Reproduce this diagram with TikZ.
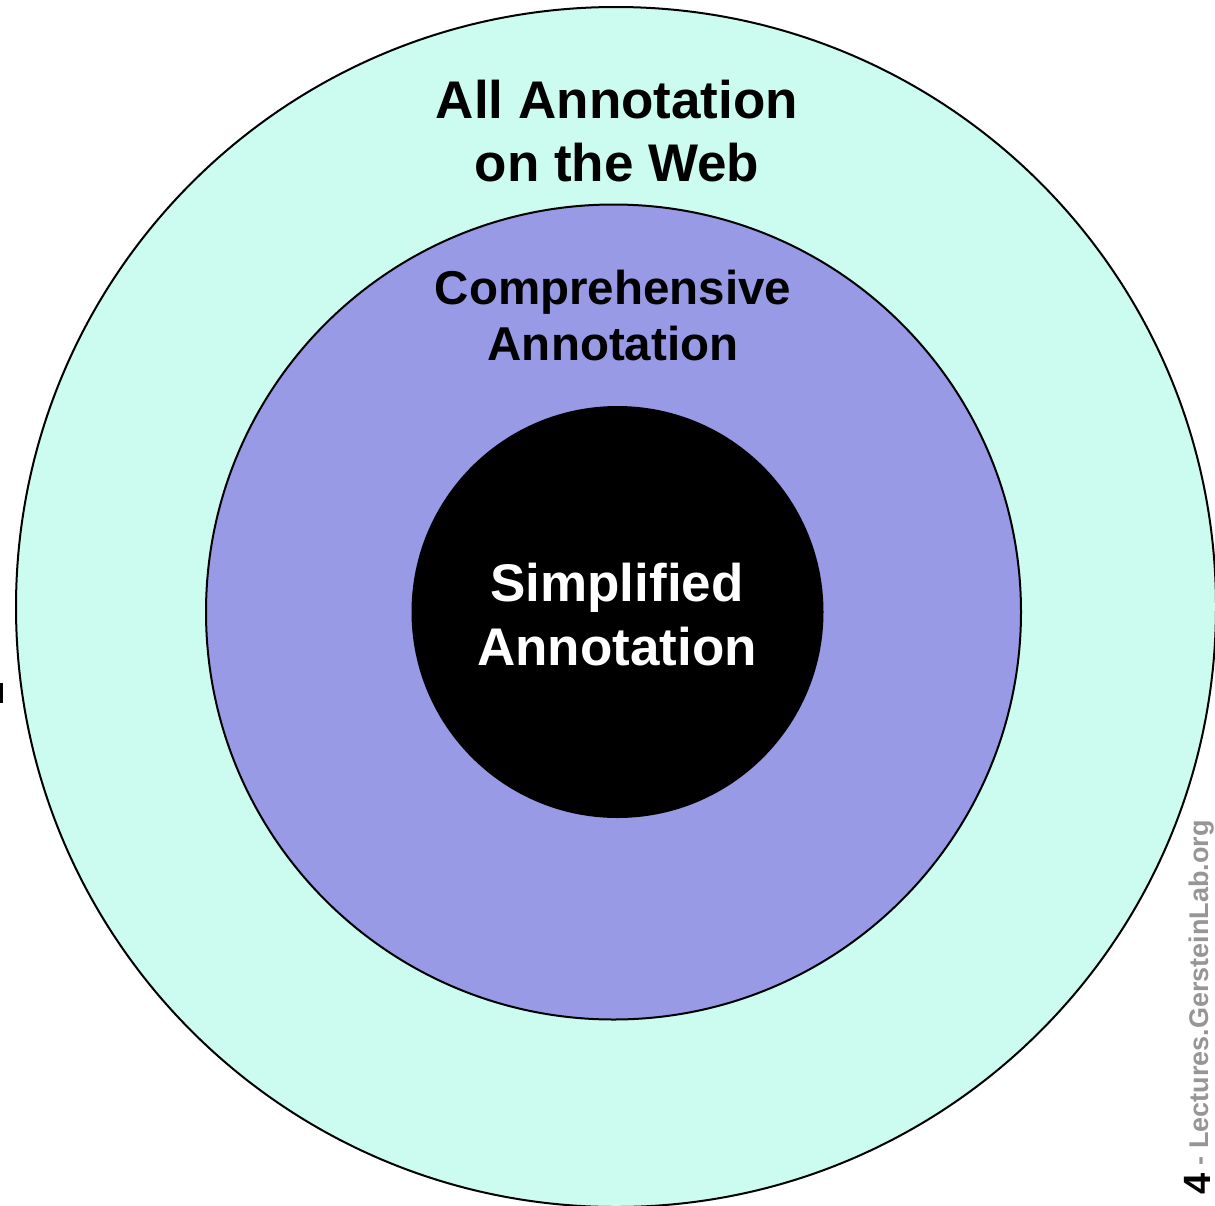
\documentclass[tikz,border=0pt]{standalone}
\usepackage{fontspec}
\setmainfont{Liberation Sans}
\definecolor{aqua}{RGB}{204,252,239}
\definecolor{peri}{RGB}{152,154,230}
\definecolor{wmgray}{RGB}{150,150,150}
\tikzset{
  ring/.style={circle, draw=black, line width=2pt, inner sep=0pt},
  bigtext/.style={anchor=base, inner sep=0pt, font=\bfseries\fontsize{53}{64}\selectfont},
  midtext/.style={anchor=base, inner sep=0pt, font=\bfseries\fontsize{47.5}{57}\selectfont},
}
\begin{document}
\begin{tikzpicture}[x=1pt,y=-1pt]
\useasboundingbox (0,0) rectangle (1215,1205);
\clip (0,0) rectangle (1215,1205);
\fill[white] (0,0) rectangle (1215,1205);
\node[ring, fill=aqua, minimum size=1200pt] (outer) at (616,607) {};
\node[ring, fill=peri, minimum size=815pt] (middle) at (613.5,612) {};
\node[ring, fill=black, minimum size=410pt] (inner) at (617.5,612) {};
\node[bigtext] (allA) at (617,118) {All Annotation};
\node[bigtext] (allB) at (617,181) {on the Web};
\node[midtext] (compA) at (613,304) {Comprehensive};
\node[midtext] (compB) at (613,360) {Annotation};
\node[bigtext, text=white] (simpA) at (617,601) {Simplified};
\node[bigtext, text=white] (simpB) at (617,665) {Annotation};
\fill[black] (0,683) rectangle (2.5,703);
\node[rotate=90, anchor=base east, inner sep=0pt, text=wmgray,
      font=\bfseries\fontsize{27}{32}\selectfont] (wm) at (1208,820)
      {- Lectures.GersteinLab.org};
\node[rotate=90, anchor=base east, inner sep=0pt, text=black,
      font=\bfseries\fontsize{38}{46}\selectfont] (num) at (1210,1173) {4};
\end{tikzpicture}
\end{document}
